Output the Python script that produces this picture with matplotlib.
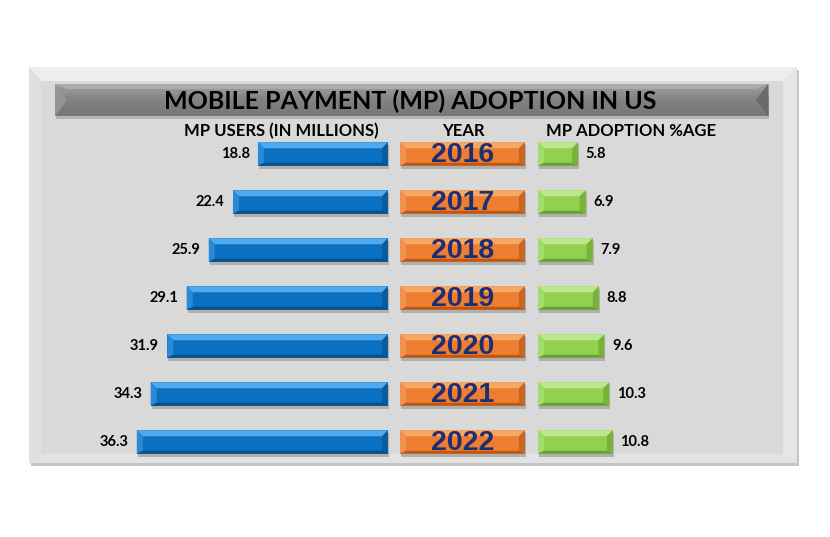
import numpy as np
import matplotlib.pyplot as plt
from matplotlib.patches import Polygon, Rectangle
from matplotlib.transforms import IdentityTransform

years = ["2016", "2017", "2018", "2019", "2020", "2021", "2022"]
users_mn = [18.8, 22.4, 25.9, 29.1, 31.9, 34.3, 36.3]
adoption_pct = [5.8, 6.9, 7.9, 8.8, 9.6, 10.3, 10.8]

title = "MOBILE PAYMENT (MP) ADOPTION IN US"
head_users = "MP USERS (IN MILLIONS)"
head_year = "YEAR"
head_pct = "MP ADOPTION %AGE"

W, H = 830, 537
FONT = ["Lato", "DejaVu Sans"]
NARROW = ["Liberation Sans Narrow", "Liberation Sans", "DejaVu Sans"]

fig = plt.figure(figsize=(W / 100, H / 100), dpi=100)
fig.patch.set_facecolor("white")


def px_axes(x0, y0, x1, y1, **kw):
    # axes box given in pixels from the top-left corner
    return fig.add_axes([x0 / W, (H - y1) / H, (x1 - x0) / W, (y1 - y0) / H], **kw)


# background / decoration in pixel coords
bg = px_axes(0, 0, W, H, zorder=-5)
bg.set_xlim(0, W)
bg.set_ylim(H, 0)
bg.axis("off")


def quad(ax, pts, color, z=1, **kw):
    ax.add_patch(Polygon(pts, closed=True, facecolor=color, edgecolor="none", zorder=z, **kw))


# panel with bevel
px0, py0, px1, py1 = 29, 67, 797, 463
bl, bt, br, bb = 12, 14, 14, 9
bg.add_patch(Rectangle((px0 + 2, py0 + 3), px1 - px0, py1 - py0, facecolor="#c4c4c4", edgecolor="none", zorder=0))
bg.add_patch(Rectangle((px0, py0), px1 - px0, py1 - py0, facecolor="#d9d9d9", edgecolor="none", zorder=1))
ix0, iy0, ix1, iy1 = px0 + bl, py0 + bt, px1 - br, py1 - bb
quad(bg, [(px0, py0), (px1, py0), (ix1, iy0), (ix0, iy0)], "#eeeeee", 2)
quad(bg, [(px0, py0), (ix0, iy0), (ix0, iy1), (px0, py1)], "#e0e0e0", 2)
quad(bg, [(px1, py0), (px1, py1), (ix1, iy1), (ix1, iy0)], "#e6e6e6", 2)
quad(bg, [(px0, py1), (ix0, iy1), (ix1, iy1), (px1, py1)], "#e2e2e2", 2)

# title bar
tx0, ty0, tx1, ty1 = 55, 84, 768, 116
bg.add_patch(Rectangle((tx0 + 1, ty0 + 3), tx1 - tx0, ty1 - ty0, facecolor="#b5b5b5", edgecolor="none", zorder=3))
grad = np.linspace(0, 1, 64).reshape(-1, 1)
bg.imshow(grad, cmap=plt.matplotlib.colors.LinearSegmentedColormap.from_list("g", ["#a0a0a0", "#828282", "#777777"]),
          extent=(tx0, tx1, ty1, ty0), aspect="auto", zorder=4)
tb = 12
quad(bg, [(tx0, ty0), (tx0 + tb, ty0 + 16), (tx0, ty1)], "#959595", 5)
quad(bg, [(tx0, ty0), (tx1, ty0), (tx1 - tb, ty0 + 5), (tx0 + tb, ty0 + 5)], "#acacac", 5)
quad(bg, [(tx1, ty0), (tx1, ty1), (tx1 - tb, ty0 + 16)], "#6a6a6a", 5)
bg.text((tx0 + tx1) / 2 - 1, (ty0 + ty1) / 2 + 1, title, ha="center", va="center",
        fontsize=18, fontweight="bold", color="black", family=FONT, zorder=6)

# column headers
for xh, txt in [(281, head_users), (463, head_year), (631, head_pct)]:
    bg.text(xh, 131, txt, ha="center", va="center", fontsize=12, fontweight="bold",
            color="black", family=FONT, zorder=6)

rows = np.arange(len(years))
bar_h = 0.49
SCALE = 6.92  # pixels per unit, shared by both value columns
RIGHT = 388
GX = 538
top_px, bot_px = 130, 466


def bevel(ax, rect, top, left, right, bottom, bt=6, bs=6, bb=3):
    (xa, ya), (xb, yb) = ax.transData.transform(
        [(rect.get_x(), rect.get_y()), (rect.get_x() + rect.get_width(), rect.get_y() + rect.get_height())])
    x0, x1 = sorted([xa, xb])
    y0, y1 = sorted([ya, yb])  # display coords, y up
    tr = IdentityTransform()
    sh = Rectangle((x0 + 1, y0 - 3), x1 - x0, y1 - y0, facecolor="#b0b0b0",
                   edgecolor="none", transform=tr, zorder=0, clip_on=False)
    ax.add_artist(sh)
    polys = [
        ([(x0, y1), (x1, y1), (x1 - bs, y1 - bt), (x0 + bs, y1 - bt)], top),
        ([(x0, y1), (x0 + bs, y1 - bt), (x0 + bs, y0 + bb), (x0, y0)], left),
        ([(x1, y1), (x1, y0), (x1 - bs, y0 + bb), (x1 - bs, y1 - bt)], right),
        ([(x0, y0), (x0 + bs, y0 + bb), (x1 - bs, y0 + bb), (x1, y0)], bottom),
    ]
    for pts, c in polys:
        ax.add_artist(Polygon(pts, closed=True, facecolor=c, edgecolor="none",
                              transform=tr, zorder=2, clip_on=False))


# users column (bars grow leftwards)
lim_u = 40
axu = px_axes(RIGHT - SCALE * lim_u, top_px, RIGHT, bot_px)
axu.set_xlim(lim_u, 0)
axu.set_ylim(len(years) - 0.5, -0.5)
axu.axis("off")
bars_u = axu.barh(rows, users_mn, height=bar_h, color="#0a70c2", zorder=1)
for r, v in zip(bars_u, users_mn):
    bevel(axu, r, "#4eaaf0", "#2a8ad8", "#0a5c9e", "#07508a")
    axu.text(v + 1.2, r.get_y() + r.get_height() / 2, f"{v:.1f}", ha="right", va="center",
             fontsize=10.5, fontweight="bold", family=FONT, color="black", zorder=5)

# year column
axy = px_axes(400, top_px, 525, bot_px)
axy.set_xlim(0, 1)
axy.set_ylim(len(years) - 0.5, -0.5)
axy.axis("off")
bars_y = axy.barh(rows, [1] * len(years), height=bar_h, color="#ed7d31", zorder=1)
for r, y in zip(bars_y, years):
    bevel(axy, r, "#f7a765", "#f19050", "#c9661f", "#b85a1a")
    axy.text(0.5, r.get_y() + r.get_height() / 2 + 0.03, y, ha="center", va="center",
             fontsize=20.5, fontweight="bold", family=NARROW, color="#1f2e6e", zorder=5)

# adoption column
lim_p = 20
axp = px_axes(GX, top_px, GX + SCALE * lim_p, bot_px)
axp.set_xlim(0, lim_p)
axp.set_ylim(len(years) - 0.5, -0.5)
axp.axis("off")
bars_p = axp.barh(rows, adoption_pct, height=bar_h, color="#92d050", zorder=1)
for r, v in zip(bars_p, adoption_pct):
    bevel(axp, r, "#bce68e", "#a5da6c", "#79b23b", "#6c9f33")
    axp.text(v + 1.1, r.get_y() + r.get_height() / 2, f"{v:.1f}", ha="left", va="center",
             fontsize=10.5, fontweight="bold", family=FONT, color="black", zorder=5)

fig.savefig("out.png", dpi=100)
